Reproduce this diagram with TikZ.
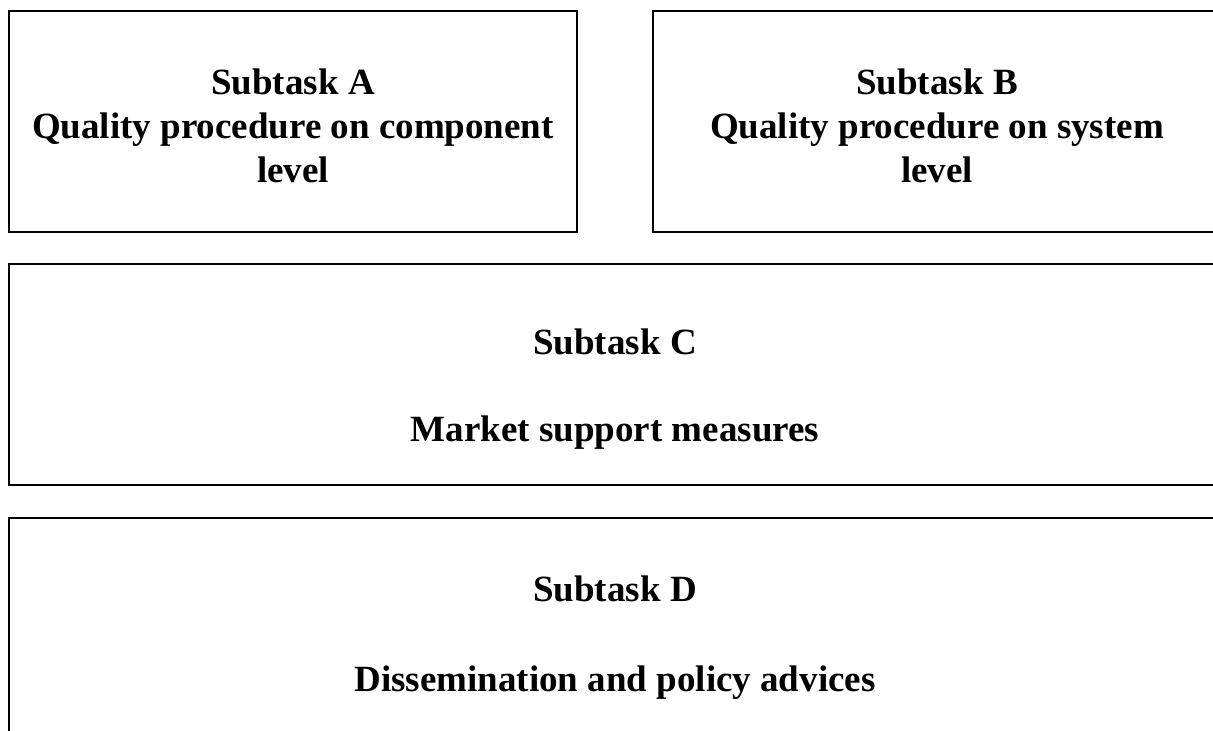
\documentclass[tikz,border=0pt]{standalone}
\usepackage{fontspec}
\setmainfont{Liberation Serif}
\tikzset{lbl/.style={anchor=base,inner sep=0pt,font=\fontsize{37}{44}\selectfont\bfseries},
         boxline/.style={line width=1.8pt}}

\begin{document}
\begin{tikzpicture}[x=1pt,y=1pt]
\useasboundingbox (0,0) rectangle (1213,731);
\clip (0,0) rectangle (1213,731);
			 \draw[boxline] (9,720) rectangle (577,499);
			 \draw[boxline] (653,720) rectangle (1221,499);
			 \draw[boxline] (9,467) rectangle (1221,246);
			 \draw[boxline] (9,213) rectangle (1221,-120);

			 \node[lbl] (subA) at (293,636) {Subtask A};
			 \node[lbl] (qualA) at (293,592) {Quality procedure on component};
			 \node[lbl] (levA) at (293,548) {level};

			 \node[lbl] (subB) at (937,636) {Subtask B};
			 \node[lbl] (qualB) at (937,592) {Quality procedure on system};
			 \node[lbl] (levB) at (937,548) {level};

\node[lbl] (subC) at (615,376) {Subtask C};
\node[lbl] (markC) at (615,289) {Market support measures};

\node[lbl] (subD) at (615,129) {Subtask D};
\node[lbl] (dissD) at (615,39) {Dissemination and policy advices};
		 \end{tikzpicture}
\end{document}
